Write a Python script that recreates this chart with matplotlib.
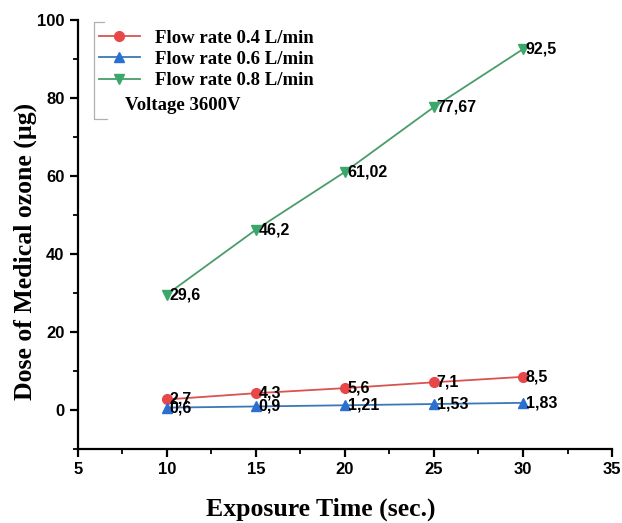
import matplotlib
matplotlib.use("Agg")
import matplotlib.pyplot as plt
from matplotlib.lines import Line2D
from matplotlib.ticker import MultipleLocator

time_s = [10, 15, 20, 25, 30]
flow_04 = [2.7, 4.3, 5.6, 7.1, 8.5]
flow_06 = [0.6, 0.9, 1.21, 1.53, 1.83]
flow_08 = [29.6, 46.2, 61.02, 77.67, 92.5]
labels_04 = ["2,7", "4,3", "5,6", "7,1", "8,5"]
labels_06 = ["0,6", "0,9", "1,21", "1,53", "1,83"]
labels_08 = ["29,6", "46,2", "61,02", "77,67", "92,5"]

fig = plt.figure(figsize=(6.22, 5.23), dpi=100)
ax = fig.add_axes([0.125, 0.1415, 0.859, 0.8205])

series = [
    (flow_04, labels_04, "Flow rate 0.4 L/min", "o", "#e8474a", "#d9534f"),
    (flow_06, labels_06, "Flow rate 0.6 L/min", "^", "#2a6fd1", "#3b78b8"),
    (flow_08, labels_08, "Flow rate 0.8 L/min", "v", "#3aa86b", "#4a9c6a"),
]
for ys, labs, name, mk, mc, lc in series:
    ax.plot(time_s, ys, color=lc, lw=1.3, marker=mk, ms=7,
            markerfacecolor=mc, markeredgecolor=mc, label=name)
    for x, y, t in zip(time_s, ys, labs):
        ax.annotate(t, (x, y), xytext=(2, 0), textcoords="offset points",
                    ha="left", va="center", fontsize=11.5, fontweight="bold",
                    family="Liberation Sans")

ax.set_xlim(5, 35)
ax.set_ylim(-10, 100)
ax.xaxis.set_major_locator(MultipleLocator(5))
ax.xaxis.set_minor_locator(MultipleLocator(2.5))
ax.yaxis.set_major_locator(MultipleLocator(20))
ax.yaxis.set_minor_locator(MultipleLocator(10))
ax.spines["top"].set_visible(False)
ax.spines["right"].set_visible(False)
ax.spines["left"].set_linewidth(1.6)
ax.spines["bottom"].set_linewidth(1.6)
ax.tick_params(which="major", length=6, width=1.6, direction="out")
ax.tick_params(which="minor", length=3.5, width=1.3, direction="out")
for lab in ax.get_xticklabels() + ax.get_yticklabels():
    lab.set_fontfamily("Liberation Sans")
    lab.set_fontweight("bold")
    lab.set_fontsize(12)

ax.set_xlabel("Exposure Time (sec.)", family="Liberation Serif",
              fontweight="bold", fontsize=18.5)
ax.set_ylabel("Dose of Medical ozone (\u00b5g)", family="Liberation Serif",
              fontweight="bold", fontsize=18.5)
ax.xaxis.set_label_coords(0.455, -0.113)
ax.yaxis.set_label_coords(-0.077, 0.46)

ax.legend(loc="upper left", bbox_to_anchor=(0.025, 0.995), frameon=False,
          prop={"family": "Liberation Serif", "weight": "bold", "size": 13.5},
          handlelength=2.2, handletextpad=0.8, labelspacing=0.22,
          borderaxespad=0.0)
ax.text(0.088, 0.8, "Voltage 3600V", transform=ax.transAxes,
        ha="left", va="center", family="Liberation Serif",
        fontweight="bold", fontsize=13.5)

# thin grey bracket on the left of the legend, as in the original
bracket = Line2D([0.05, 0.03, 0.03, 0.055], [0.995, 0.995, 0.77, 0.77],
                 transform=ax.transAxes, color="#b0b0b0", lw=0.9)
ax.add_line(bracket)

fig.savefig("out.png", dpi=100)
